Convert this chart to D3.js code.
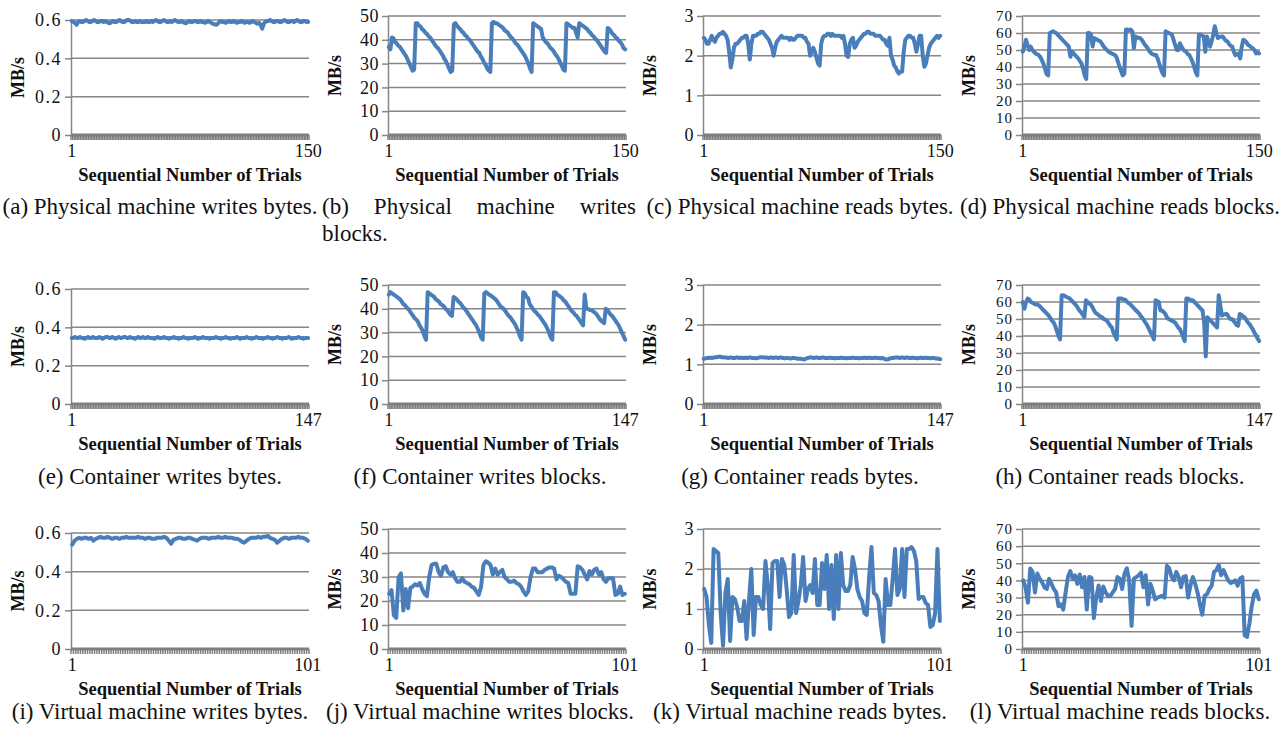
<!DOCTYPE html>
<html>
<head>
<meta charset="utf-8">
<script src="https://cdn.jsdelivr.net/npm/d3@7"></script>
<style>
  body { margin: 0; background: #fff; }
  svg { display: block; }
</style>
</head>
<body>
<div id="chart"></div>
<script>
// ---- data (MB/s per trial) ----
var physWriteBytes = [
  0.595, 0.59, 0.585, 0.575, 0.59, 0.595, 0.59, 0.59, 0.595, 0.6,
  0.595, 0.59, 0.59, 0.595, 0.6, 0.595, 0.59, 0.59, 0.595, 0.595,
  0.59, 0.595, 0.59, 0.585, 0.583, 0.59, 0.595, 0.59, 0.59, 0.595,
  0.6, 0.595, 0.59, 0.59, 0.595, 0.6, 0.6, 0.595, 0.59, 0.59,
  0.595, 0.59, 0.59, 0.595, 0.59, 0.59, 0.59, 0.595, 0.59, 0.59,
  0.595, 0.59, 0.595, 0.6, 0.595, 0.59, 0.59, 0.595, 0.6, 0.595,
  0.59, 0.59, 0.595, 0.59, 0.595, 0.6, 0.595, 0.59, 0.59, 0.595,
  0.59, 0.585, 0.583, 0.59, 0.595, 0.59, 0.59, 0.595, 0.595, 0.59,
  0.59, 0.595, 0.59, 0.59, 0.585, 0.59, 0.595, 0.59, 0.585, 0.58,
  0.578, 0.575, 0.58, 0.59, 0.595, 0.59, 0.59, 0.585, 0.59, 0.595,
  0.59, 0.59, 0.595, 0.59, 0.585, 0.59, 0.59, 0.595, 0.59, 0.585,
  0.59, 0.59, 0.585, 0.59, 0.595, 0.59, 0.585, 0.58, 0.585, 0.575,
  0.555, 0.58, 0.59, 0.595, 0.595, 0.6, 0.595, 0.59, 0.59, 0.595,
  0.595, 0.59, 0.59, 0.595, 0.6, 0.595, 0.59, 0.59, 0.595, 0.595,
  0.59, 0.595, 0.6, 0.595, 0.59, 0.59, 0.595, 0.595, 0.59, 0.59
];
var physWriteBlocks = [
  37, 36, 41, 40.5, 39, 38.5, 37.5, 37, 36, 35, 34, 33, 31.5, 30, 28.5, 27, 27.5,
  47, 47, 46, 45.5, 44.5, 44, 43, 42.5, 41.5, 41, 40, 39, 38, 37, 36.5, 35.5, 34.5, 33.5, 32, 31, 29.5, 28, 26.5, 27,
  46.5, 47, 46, 45, 44.5, 43.5, 43, 42, 41.5, 40.5, 40, 39, 38, 37, 36, 35, 34.5, 33, 32, 30.5, 29.5, 28, 27, 26.5,
  47, 47.5, 47, 47, 46.5, 46, 45.5, 45, 44, 43.5, 43, 42, 41, 40.5, 39.5, 38.5, 38, 37, 36, 35, 34, 33, 31.5, 30, 28, 26.5,
  47, 46.5, 46, 45.5, 45, 44.5, 41, 40, 39, 38.5, 37.5, 36.5, 36, 35, 34, 33, 32, 30.5, 29, 27.5, 27,
  47, 46.5, 46, 45.5, 45, 45, 43, 41, 47, 46.5, 46, 45.5, 45, 44.5, 43.5, 43, 42, 41.5, 40.5, 40, 39, 38, 37, 36, 35, 34.5,
  45, 44.5, 43.5, 42.5, 42, 41, 40.5, 39.5, 39, 38, 36.5, 36
];
var physReadBytes = [
  2.45, 2.4, 2.3, 2.3, 2.4, 2.5, 2.4, 2.35, 2.45, 2.5,
  2.55, 2.55, 2.6, 2.55, 2.5, 2.4, 2.1, 1.7, 1.9, 2.2,
  2.3, 2.3, 2.35, 2.4, 2.45, 2.45, 2.5, 2.5, 2.3, 1.9,
  2.3, 2.5, 2.5, 2.5, 2.55, 2.55, 2.6, 2.6, 2.55, 2.5,
  2.45, 2.4, 2.3, 2.2, 2.0, 2.2, 2.35, 2.4, 2.45, 2.5,
  2.45, 2.45, 2.45, 2.45, 2.4, 2.45, 2.4, 2.4, 2.45, 2.5,
  2.5, 2.5, 2.5, 2.45, 2.45, 2.35, 2.3, 2.0, 2.1, 2.2,
  2.1, 1.95, 1.8, 1.75, 2.3, 2.45, 2.5, 2.5, 2.55, 2.55,
  2.5, 2.55, 2.5, 2.5, 2.5, 2.5, 2.5, 2.45, 2.5, 2.3,
  2.0, 1.97, 2.3, 2.4, 2.45, 2.2, 2.25, 2.35, 2.4, 2.45,
  2.5, 2.55, 2.55, 2.6, 2.6, 2.55, 2.55, 2.55, 2.5, 2.5,
  2.5, 2.5, 2.45, 2.4, 2.4, 2.3, 2.25, 2.45, 2.0, 1.9,
  1.75, 1.7, 1.6, 1.55, 1.6, 1.6, 2.1, 2.4, 2.45, 2.5,
  2.5, 2.45, 2.45, 2.3, 2.1, 2.3, 2.5, 2.5, 2.0, 1.72,
  1.8, 2.0, 2.2, 2.3, 2.35, 2.4, 2.45, 2.5, 2.45, 2.5
];
var physReadBlocks = [
  49, 52, 56, 53, 50, 52, 50, 49, 48, 47.5,
  47, 46, 44, 42, 39, 36, 35, 60, 60.5, 61,
  60.5, 60, 59, 58, 57, 56, 55, 54, 53, 52,
  46, 49, 48, 47, 46, 45, 43.5, 42, 39, 35,
  33, 60, 60, 59, 52, 57, 56.5, 56, 55.5, 55,
  53.5, 52, 51, 50, 49, 48.5, 48, 47.5, 47, 46,
  43, 40, 37.5, 35, 36, 62, 62, 61.5, 62, 61,
  51, 58, 57.5, 57, 57, 56, 54.5, 53, 52, 50.5,
  49, 48, 47.5, 47, 47, 45, 42, 39, 36.5, 35,
  61, 60.5, 60, 59.5, 59, 56, 53, 50, 50, 54,
  52, 50.5, 49.5, 49, 47.5, 47, 45, 43, 40, 37,
  35, 59, 59, 58.5, 58, 49, 58, 55, 52, 55,
  59, 64, 60, 57, 57.5, 58, 58, 56.5, 55.5, 55,
  53.5, 52.5, 52, 49, 47, 47.5, 48, 45, 52, 56,
  55.5, 54.5, 53, 52.5, 51.5, 51, 50, 48, 48.5, 48
];
var contWriteBytes = [
  0.345, 0.345, 0.35, 0.345, 0.345, 0.35, 0.345, 0.345, 0.34, 0.345,
  0.35, 0.345, 0.345, 0.35, 0.345, 0.345, 0.345, 0.35, 0.345, 0.34,
  0.345, 0.35, 0.35, 0.345, 0.345, 0.35, 0.345, 0.34, 0.345, 0.35,
  0.345, 0.345, 0.35, 0.35, 0.345, 0.345, 0.35, 0.345, 0.345, 0.34,
  0.345, 0.35, 0.345, 0.345, 0.35, 0.345, 0.345, 0.35, 0.345, 0.345,
  0.345, 0.34, 0.345, 0.35, 0.345, 0.345, 0.345, 0.35, 0.345, 0.345,
  0.34, 0.345, 0.345, 0.35, 0.345, 0.345, 0.34, 0.345, 0.345, 0.35,
  0.345, 0.345, 0.34, 0.345, 0.345, 0.345, 0.35, 0.345, 0.34, 0.345,
  0.345, 0.35, 0.345, 0.345, 0.345, 0.34, 0.345, 0.345, 0.345, 0.35,
  0.345, 0.345, 0.34, 0.345, 0.345, 0.35, 0.345, 0.345, 0.34, 0.345,
  0.345, 0.345, 0.35, 0.345, 0.34, 0.345, 0.345, 0.345, 0.35, 0.345,
  0.345, 0.34, 0.345, 0.345, 0.35, 0.345, 0.345, 0.345, 0.34, 0.345,
  0.345, 0.35, 0.345, 0.345, 0.34, 0.345, 0.345, 0.35, 0.345, 0.345,
  0.34, 0.345, 0.345, 0.345, 0.35, 0.345, 0.34, 0.345, 0.345, 0.345,
  0.35, 0.345, 0.345, 0.34, 0.345, 0.345, 0.345
];
var contWriteBlocks = [
  46, 47, 46.5, 46, 45.5, 45, 44.5, 44, 43, 42, 41.5, 40.5, 40, 39, 38, 37, 36, 35.5, 34.5, 33, 32, 30.5, 28.5, 27,
  47, 46.5, 46, 45.5, 45, 44, 43.5, 43, 42, 41.5, 41, 40, 39.5, 38.5, 37.5, 37,
  45, 44.5, 44, 43, 42.5, 41.5, 40.5, 40, 39, 38, 37, 36, 35, 34, 33, 31.5, 30, 28, 27,
  46.5, 47, 46.5, 46, 45.5, 45, 44.5, 44, 43, 42, 41, 40.5, 40, 39, 38, 37, 36.5, 35.5, 34.5, 33.5, 32, 30.5, 28.5, 27,
  47, 46.5, 45, 44.5, 42, 41, 40, 39, 38.5, 37.5, 37, 36, 35, 34, 33, 31.5, 30, 28, 27,
  47, 47, 46, 45.5, 45, 44.5, 43.5, 43, 42, 41, 40, 39, 38.5, 37.5, 37, 36, 35, 34, 33,
  46, 40, 40, 39.5, 39.5, 39, 38.5, 38, 37, 36, 35, 34.5, 34,
  40, 39.5, 38.5, 37.5, 37, 36, 35, 34, 33, 31.5, 30, 28.5, 27
];
var contReadBytes = [
  1.14, 1.15, 1.16, 1.16, 1.17, 1.16, 1.17, 1.18, 1.18, 1.19,
  1.19, 1.18, 1.18, 1.17, 1.17, 1.16, 1.17, 1.17, 1.16, 1.16,
  1.17, 1.17, 1.16, 1.17, 1.16, 1.16, 1.17, 1.16, 1.17, 1.17,
  1.16, 1.16, 1.15, 1.16, 1.17, 1.18, 1.18, 1.17, 1.17, 1.17,
  1.16, 1.17, 1.17, 1.16, 1.17, 1.17, 1.16, 1.17, 1.17, 1.16,
  1.15, 1.16, 1.16, 1.15, 1.15, 1.16, 1.16, 1.15, 1.14, 1.14,
  1.14, 1.13, 1.12, 1.14, 1.16, 1.17, 1.17, 1.17, 1.16, 1.17,
  1.17, 1.16, 1.16, 1.17, 1.17, 1.16, 1.16, 1.16, 1.17, 1.16,
  1.16, 1.15, 1.16, 1.16, 1.16, 1.17, 1.16, 1.16, 1.15, 1.16,
  1.16, 1.16, 1.17, 1.16, 1.16, 1.16, 1.15, 1.16, 1.16, 1.17,
  1.16, 1.16, 1.17, 1.16, 1.16, 1.16, 1.17, 1.16, 1.16, 1.15,
  1.16, 1.15, 1.13, 1.12, 1.13, 1.15, 1.16, 1.16, 1.17, 1.17,
  1.17, 1.16, 1.17, 1.17, 1.16, 1.17, 1.17, 1.16, 1.16, 1.17,
  1.16, 1.16, 1.15, 1.16, 1.17, 1.16, 1.16, 1.17, 1.16, 1.16,
  1.15, 1.16, 1.16, 1.15, 1.15, 1.14, 1.13
];
var contReadBlocks = [
  60, 56, 60, 62, 61.5, 60, 59.5, 59, 58.5, 58.5,
  58, 57, 56, 55, 54, 53, 52, 50.5, 49, 48,
  46, 43, 40, 38, 64, 64, 63.5, 63, 62.5, 62,
  61, 60, 59, 58, 56.5, 55, 54, 52.5, 51, 61,
  60, 59, 58.5, 57, 55, 53.5, 53, 52, 51.5, 51,
  50, 49.5, 49, 47.5, 46, 45, 42, 40, 38, 62,
  62, 62, 61.5, 61.5, 60.5, 59.5, 59, 58, 57, 56,
  55, 54, 53, 51.5, 50.5, 49, 47.5, 46, 44, 42,
  40, 38, 61, 60.5, 60, 55, 55, 54, 53, 51,
  50, 49.5, 49, 48.5, 48, 46.5, 45, 44, 42, 39.5,
  37, 62, 62, 61.5, 61, 61, 60, 59, 58, 57,
  56, 55, 48, 28, 51, 50, 49, 48, 47, 46,
  45, 64, 58, 52, 52.5, 53, 53, 51.5, 50, 50,
  49, 48, 46.5, 46, 53, 52.5, 51.5, 51, 49.5, 48,
  47, 45.5, 44, 42, 40.5, 38.5, 37
];
var vmWriteBytes = [
  0.54, 0.56, 0.57, 0.575, 0.57, 0.575, 0.575, 0.57, 0.575, 0.56,
  0.57, 0.575, 0.58, 0.575, 0.575, 0.58, 0.575, 0.57, 0.575, 0.575,
  0.57, 0.575, 0.575, 0.58, 0.575, 0.575, 0.575, 0.575, 0.58, 0.575,
  0.575, 0.57, 0.575, 0.575, 0.57, 0.57, 0.575, 0.575, 0.575, 0.58,
  0.575, 0.56, 0.545, 0.565, 0.57, 0.575, 0.575, 0.57, 0.57, 0.575,
  0.575, 0.57, 0.565, 0.56, 0.57, 0.575, 0.575, 0.575, 0.57, 0.575,
  0.575, 0.575, 0.58, 0.575, 0.575, 0.58, 0.575, 0.575, 0.575, 0.57,
  0.57, 0.565, 0.555, 0.55, 0.56, 0.57, 0.575, 0.575, 0.575, 0.58,
  0.575, 0.58, 0.58, 0.585, 0.575, 0.57, 0.565, 0.55, 0.56, 0.57,
  0.575, 0.575, 0.57, 0.575, 0.575, 0.575, 0.58, 0.575, 0.575, 0.57,
  0.56
];
var vmWriteBlocks = [
  23, 24.5, 14, 13, 30, 31.5, 16, 25, 17, 25.5,
  26, 27, 26.5, 27.5, 25, 23, 22, 30, 35, 35.5,
  35.5, 32, 30.5, 34, 34.5, 32, 31, 32, 29.5, 28,
  28, 29.5, 28, 27.5, 27, 26, 25.5, 24, 22.5, 26,
  35, 36.5, 36, 35, 31, 33.5, 31, 32, 33, 30,
  29, 28, 28, 28.5, 27.5, 27, 26, 24, 22.5, 24,
  30, 33.5, 33.5, 32, 32, 32, 33, 33.5, 34, 34,
  33.5, 29, 30.5, 30, 29, 28, 27.5, 23, 23, 23,
  34.5, 34, 33, 31, 29, 32.5, 31, 33, 33.5, 31,
  32, 29, 28, 29.5, 29.5, 29.5, 22.5, 23, 26, 22.5,
  23
];
var vmReadBytes = [
  1.5, 1.3, 0.6, 0.15, 2.5, 2.45, 2.4, 0.9, 0.08, 1.4,
  1.75, 0.2, 1.3, 1.25, 1.05, 0.7, 0.7, 1.2, 0.25, 1.2,
  2.0, 0.35, 1.3, 1.3, 1.1, 1.0, 2.2, 1.6, 0.5, 2.15,
  2.2, 2.2, 1.3, 2.25, 2.1, 1.5, 0.8, 0.9, 2.35, 0.9,
  1.2, 1.6, 2.3, 1.2, 1.5, 1.6, 1.4, 2.25, 1.1, 1.1,
  2.15, 1.5, 2.35, 1.0, 2.1, 0.75, 2.35, 1.0, 2.4, 1.6,
  1.45, 1.45, 1.6, 2.3, 2.0, 1.5, 1.3, 1.2, 0.9, 0.85,
  1.8, 2.55, 1.4, 1.35, 1.2, 0.6, 0.18, 1.75, 1.1, 1.1,
  1.75, 2.5, 1.35, 1.5, 2.5, 1.3, 2.5, 2.5, 2.55, 2.45,
  2.2, 1.25, 1.3, 1.3, 1.15, 1.1, 0.55, 0.6, 0.9, 2.5,
  0.7
];
var vmReadBlocks = [
  40, 36, 27, 47, 45, 33, 44, 41, 39, 36,
  35, 41, 38, 35, 33, 25, 26, 23, 33, 42,
  45.5, 41, 43, 38, 43.5, 36, 42, 23, 42, 41.5,
  18, 30, 37, 28, 36.5, 33, 31, 31, 33, 35,
  42, 41, 35, 44, 47, 40, 13.5, 41, 42, 43,
  44.5, 36, 43, 26, 38, 34, 29, 30, 30.5, 31,
  30, 48.5, 47, 42, 40, 45, 42, 36, 42, 42.5,
  30, 37, 42, 38, 33, 26, 20, 31, 32, 35,
  37, 45, 46, 49, 43, 46, 43, 40, 38.5, 39,
  40, 37, 41, 42, 8, 7, 15, 25, 32, 34,
  29
];

// y tick values per measurement type
var writeBytesTicks = [0, 0.2, 0.4, 0.6];
var writeBlocksTicks = [0, 10, 20, 30, 40, 50];
var readBytesTicks = [0, 1, 2, 3];
var readBlocksTicks = [0, 10, 20, 30, 40, 50, 60, 70];

var captions = [
  "(a) Physical machine writes bytes.", "(b) Physical machine writes blocks.",
  "(c) Physical machine reads bytes.", "(d) Physical machine reads blocks.",
  "(e) Container writes bytes.", "(f) Container writes blocks.",
  "(g) Container reads bytes.", "(h) Container reads blocks.",
  "(i) Virtual machine writes bytes.", "(j) Virtual machine writes blocks.",
  "(k) Virtual machine reads bytes.", "(l) Virtual machine reads blocks."
];

var series = [
  physWriteBytes, physWriteBlocks, physReadBytes, physReadBlocks,
  contWriteBytes, contWriteBlocks, contReadBytes, contReadBlocks,
  vmWriteBytes, vmWriteBlocks, vmReadBytes, vmReadBlocks
];
var tickSets = [writeBytesTicks, writeBlocksTicks, readBytesTicks, readBlocksTicks];

// ---- layout ----
var W = 1283, H = 737;
var colLeft = [71, 388, 703, 1022];
var colCenter = [160, 480, 800, 1120];
var plotW = 238;
var rowBottom = [135, 404, 649];
var rowTop = [16, 285, 529];
var captionY = [214, 484, 719];

var lineColor = "#4a7ebb";
var gridColor = "#868686";
var serif = "'Liberation Serif', 'Times New Roman', serif";
var captionSize = "23px";

var svg = d3.select("#chart").append("svg")
    .attr("width", W)
    .attr("height", H)
    .style("background", "#fff");

series.forEach(function(data, k) {
    var row = Math.floor(k / 4), col = k % 4;
    var ticks = tickSets[col];
    var left = colLeft[col], right = left + plotW;
    var bottom = rowBottom[row];
    // the 0.6 panels sit a few px lower at the top
    var top = rowTop[row] + (col == 0 ? 4 : 0);
    var n = data.length;

    var x = d3.scalePoint()
        .domain(d3.range(n))
        .range([left, right])
        .padding(0.5);

    var y = d3.scaleLinear()
        .domain([0, d3.max(ticks)])
        .range([bottom, top]);

    var g = svg.append("g").attr("class", "panel");

    // gridlines
    g.selectAll(".grid")
        .data(ticks.filter(function(t) { return t > 0; }))
        .enter().append("line")
        .attr("x1", left).attr("x2", right)
        .attr("y1", function(d) { return y(d); })
        .attr("y2", function(d) { return y(d); })
        .attr("stroke", gridColor)
        .attr("stroke-width", 1.5);

    // y axis (70-step panels are tight, so a smaller font there)
    var tickFont = col == 3 ? "15px" : "18px";
    var yAxis = d3.axisLeft(y)
        .tickValues(ticks)
        .tickSize(6)
        .tickSizeOuter(0)
        .tickPadding(3)
        .tickFormat(function(d) { return d; });

    var ya = g.append("g")
        .attr("transform", "translate(" + left + ",0)")
        .attr("font-family", serif)
        .call(yAxis);
    ya.select(".domain").attr("stroke", gridColor).attr("stroke-width", 1.5);
    ya.selectAll(".tick line").attr("stroke", gridColor).attr("stroke-width", 1.5);
    ya.selectAll(".tick text")
        .attr("fill", "#111")
        .style("font-family", serif)
        .style("font-size", tickFont)
        .style("letter-spacing", col == 0 ? "1.5px" : (col == 3 ? "1px" : "0.5px"));

    // category ticks along the bottom
    var step = x.step();
    g.selectAll(".xtick")
        .data(d3.range(n + 1))
        .enter().append("line")
        .attr("x1", function(i) { return left + i * step; })
        .attr("x2", function(i) { return left + i * step; })
        .attr("y1", bottom)
        .attr("y2", bottom + 5)
        .attr("stroke", "#7f7f7f")
        .attr("stroke-width", 1.5);

    g.append("line")
        .attr("x1", left).attr("x2", right)
        .attr("y1", bottom).attr("y2", bottom)
        .attr("stroke", "#7f7f7f")
        .attr("stroke-width", 3);

    // first / last trial labels
    g.selectAll(".xlab")
        .data([0, n - 1])
        .enter().append("text")
        .attr("x", function(i) { return x(i); })
        .attr("y", bottom + 22)
        .attr("text-anchor", "middle")
        .attr("fill", "#111")
        .style("font-family", serif)
        .style("font-size", "18px")
        .text(function(i) { return i + 1; });

    // axis titles
    g.append("text")
        .attr("x", (left + right) / 2)
        .attr("y", bottom + 46)
        .attr("text-anchor", "middle")
        .attr("fill", "#111")
        .style("font-family", serif)
        .style("font-size", "18.5px")
        .style("font-weight", "bold")
        .text("Sequential Number of Trials");

    g.append("text")
        .attr("transform", "translate(" + (left - 47) + "," + ((top + bottom) / 2) + ") rotate(-90)")
        .attr("text-anchor", "middle")
        .attr("fill", "#111")
        .style("font-family", serif)
        .style("font-size", "18px")
        .style("font-weight", "bold")
        .text("MB/s");

    // the series line
    var line = d3.line()
        .x(function(d, i) { return x(i); })
        .y(function(d) { return y(d); });

    g.append("path")
        .datum(data)
        .attr("d", line)
        .attr("fill", "none")
        .attr("stroke", lineColor)
        .attr("stroke-width", 4)
        .attr("stroke-linejoin", "round")
        .attr("stroke-linecap", "round");

    // caption
    if (k == 1) {
        // justified over two lines, like the reference
        var words = ["(b)", "Physical", "machine", "writes"];
        var x0 = 322, x1 = 636;
        var tmp = words.map(function(w) {
            return g.append("text")
                .attr("y", captionY[row])
                .attr("fill", "#111")
                .style("font-family", serif)
                .style("font-size", captionSize)
                .text(w);
        });
        var widths = tmp.map(function(t) { return t.node().getComputedTextLength(); });
        var gap = (x1 - x0 - d3.sum(widths)) / (words.length - 1);
        var cx = x0;
        tmp.forEach(function(t, i) { t.attr("x", cx); cx += widths[i] + gap; });
        g.append("text")
            .attr("x", x0)
            .attr("y", captionY[row] + 27)
            .attr("fill", "#111")
            .style("font-family", serif)
            .style("font-size", captionSize)
            .text("blocks.");
    } else {
        g.append("text")
            .attr("x", colCenter[col])
            .attr("y", captionY[row])
            .attr("text-anchor", "middle")
            .attr("fill", "#111")
            .style("font-family", serif)
            .style("font-size", captionSize)
            .text(captions[k]);
    }
});
</script>
</body>
</html>
